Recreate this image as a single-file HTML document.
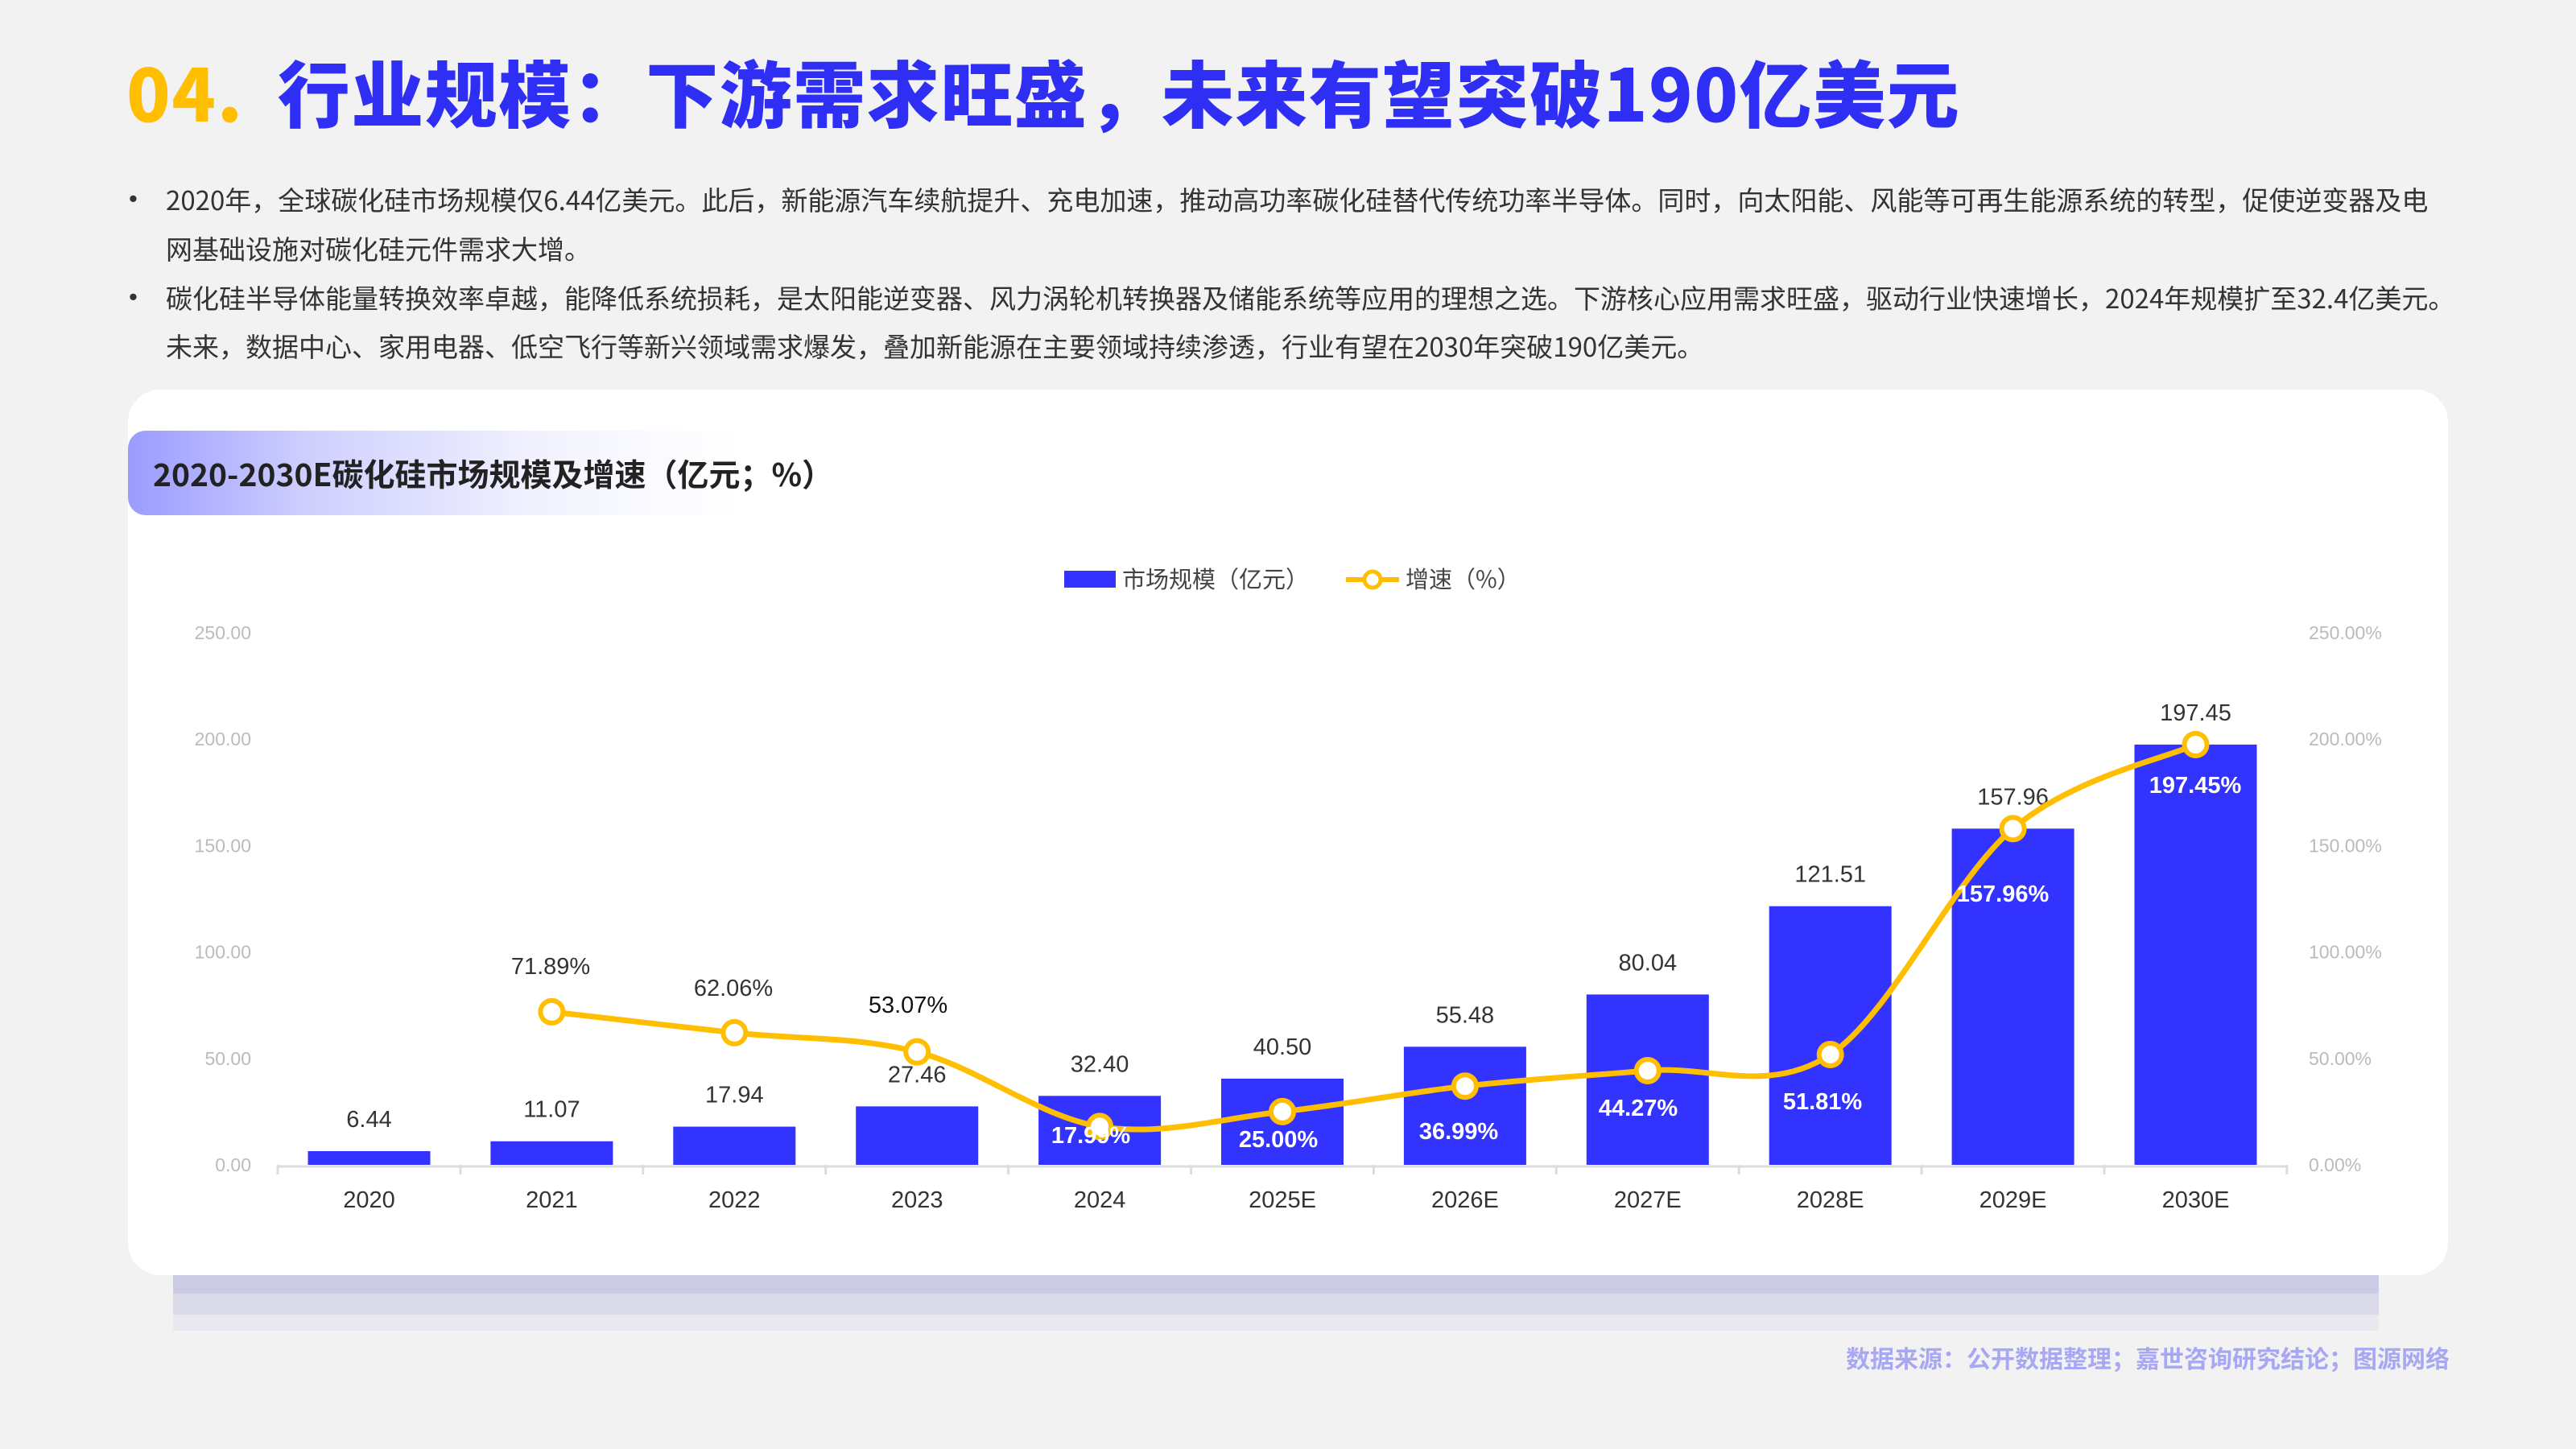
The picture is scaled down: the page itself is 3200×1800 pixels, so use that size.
<!DOCTYPE html>
<html><head><meta charset="utf-8">
<style>
*{margin:0;padding:0;box-sizing:border-box}
body{width:3200px;height:1800px;background:#F2F2F2;position:relative;overflow:hidden;font-family:"Liberation Sans","Noto Sans CJK SC",sans-serif}
.title{position:absolute;left:157px;top:52px;font-size:90px;font-weight:900;color:#2E2EF5;font-family:"Noto Sans CJK SC",sans-serif;line-height:120px;white-space:nowrap;letter-spacing:1.5px}
.title span{color:#FFBF00;margin-right:42px}
.p{position:absolute;left:206px;font-size:33px;color:#333;font-family:"Noto Sans CJK SC",sans-serif;white-space:nowrap;line-height:40px}
.dot{position:absolute;left:160px;font-size:31px;color:#333;line-height:40px}
.band1{position:absolute;left:215px;width:2740px;top:1583px;height:24px;background:#CBCBE3}
.band2{position:absolute;left:215px;width:2740px;top:1607px;height:26px;background:#D9D9E8}
.band3{position:absolute;left:215px;width:2740px;top:1633px;height:20px;background:#E8E8EE}
.card{position:absolute;left:159px;top:484px;width:2882px;height:1100px;background:#fff;border-radius:40px}
.pill{position:absolute;left:159px;top:535px;width:760px;height:105px;border-radius:22px 0 0 22px;background:linear-gradient(90deg,#9B9BFF 0%,#D0D0FF 30%,#F4F4FF 70%,rgba(255,255,255,0) 100%)}
.pilltxt{position:absolute;left:190px;top:562px;font-size:39px;font-weight:bold;color:#222;font-family:"Noto Sans CJK SC",sans-serif;line-height:52px;white-space:nowrap}
.src{position:absolute;right:157px;top:1664px;font-size:30px;font-weight:bold;color:#A8A8F2;font-family:"Noto Sans CJK SC",sans-serif;white-space:nowrap}
svg{position:absolute;left:0;top:0}
</style></head><body>
<div class="title"><span>04.</span>行业规模：下游需求旺盛，未来有望突破190亿美元</div>
<div class="dot" style="top:227px">•</div>
<div class="p" style="top:227px">2020年，全球碳化硅市场规模仅6.44亿美元。此后，新能源汽车续航提升、充电加速，推动高功率碳化硅替代传统功率半导体。同时，向太阳能、风能等可再生能源系统的转型，促使逆变器及电</div>
<div class="p" style="top:288px">网基础设施对碳化硅元件需求大增。</div>
<div class="dot" style="top:349px">•</div>
<div class="p" style="top:349px">碳化硅半导体能量转换效率卓越，能降低系统损耗，是太阳能逆变器、风力涡轮机转换器及储能系统等应用的理想之选。下游核心应用需求旺盛，驱动行业快速增长，2024年规模扩至32.4亿美元。</div>
<div class="p" style="top:409px">未来，数据中心、家用电器、低空飞行等新兴领域需求爆发，叠加新能源在主要领域持续渗透，行业有望在2030年突破190亿美元。</div>
<div class="band3"></div><div class="band2"></div><div class="band1"></div>
<div class="card"></div>
<div class="pill"></div>
<div class="pilltxt">2020-2030E碳化硅市场规模及增速（亿元；%）</div>
<div class="src">数据来源：公开数据整理；嘉世咨询研究结论；图源网络</div>
<svg id="s" width="3200" height="1800" xmlns="http://www.w3.org/2000/svg" font-family="Liberation Sans, Noto Sans CJK SC, sans-serif">
<rect x="1322" y="709" width="64" height="21" fill="#3333FF"/>
<text x="1394" y="730" font-size="29" fill="#444" font-family="Noto Sans CJK SC, sans-serif">市场规模（亿元）</text>
<line x1="1672" y1="720" x2="1738" y2="720" stroke="#FFBF00" stroke-width="6"/>
<circle cx="1705" cy="720" r="10" fill="#fff" stroke="#FFBF00" stroke-width="5"/>
<text x="1746" y="730" font-size="29" fill="#444" font-family="Noto Sans CJK SC, sans-serif">增速（%）</text>
<g id="g"></g>
</svg>
<script>
var g=document.getElementById('g'),h='';
var base=1447,k=2.644,x0=458.5,w=226.9;
var cats=['2020','2021','2022','2023','2024','2025E','2026E','2027E','2028E','2029E','2030E'];
var v=[6.44,11.07,17.94,27.46,32.40,40.50,55.48,80.04,121.51,157.96,197.45];
var p=[null,71.89,62.06,53.07,17.99,25.00,36.99,44.27,51.81,157.96,197.45];
for(var i=0;i<=5;i++){var y=base-i*50*k;
h+='<text x="312" y="'+(y+8)+'" font-size="23" fill="#bbb" text-anchor="end">'+(i*50).toFixed(2)+'</text>';
h+='<text x="2868" y="'+(y+8)+'" font-size="23" fill="#bbb">'+(i*50).toFixed(2)+'%</text>';}
h+='<line x1="345" y1="'+(base+2)+'" x2="2841" y2="'+(base+2)+'" stroke="#ddd" stroke-width="3"/>';
for(var i=0;i<=11;i++){var x=345+i*w;h+='<line x1="'+x+'" y1="'+base+'" x2="'+x+'" y2="'+(base+12)+'" stroke="#ddd" stroke-width="3"/>';}
for(var i=0;i<11;i++){var cx=x0+i*w,t=base-v[i]*k;
h+='<rect x="'+(cx-76)+'" y="'+t+'" width="152" height="'+(base-t)+'" fill="#3333FF"/>';
h+='<text x="'+cx+'" y="'+(t-30)+'" font-size="29" fill="#333" text-anchor="middle">'+v[i].toFixed(2)+'</text>';
h+='<text x="'+cx+'" y="'+(base+53)+'" font-size="29" fill="#333" text-anchor="middle">'+cats[i]+'</text>';}
var P=[];for(var i=1;i<11;i++)P.push([x0+i*w,base-p[i]*k]);
var d='M'+P[0][0]+','+P[0][1];
for(var i=0;i<P.length-1;i++){var a=P[Math.max(i-1,0)],b=P[i],c=P[i+1],e=P[Math.min(i+2,P.length-1)];
d+=' C'+(b[0]+(c[0]-a[0])/6)+','+(b[1]+(c[1]-a[1])/6)+' '+(c[0]-(e[0]-b[0])/6)+','+(c[1]-(e[1]-b[1])/6)+' '+c[0]+','+c[1];}
h+='<path d="'+d+'" fill="none" stroke="#FFBF00" stroke-width="7"/>';
for(var i=0;i<P.length;i++)h+='<circle cx="'+P[i][0]+'" cy="'+P[i][1]+'" r="14" fill="#fff" stroke="#FFBF00" stroke-width="6"/>';
var lp=[[684,1200,'#333',0],[911,1227,'#333',0],[1128,1248,'#111',0],[1355,1410,'#fff',1],[1588,1415,'#fff',1],[1812,1405,'#fff',1],[2035,1376,'#fff',1],[2264,1368,'#fff',1],[2488,1110,'#fff',1],[2727,975,'#fff',1]];
for(var i=0;i<10;i++){var L=lp[i];
h+='<text x="'+L[0]+'" y="'+(L[1]+10)+'" font-size="29" fill="'+L[2]+'" text-anchor="middle"'+(L[3]?' font-weight="bold"':'')+'>'+p[i+1].toFixed(2)+'%</text>';}
g.innerHTML=h;
</script>
</body></html>
